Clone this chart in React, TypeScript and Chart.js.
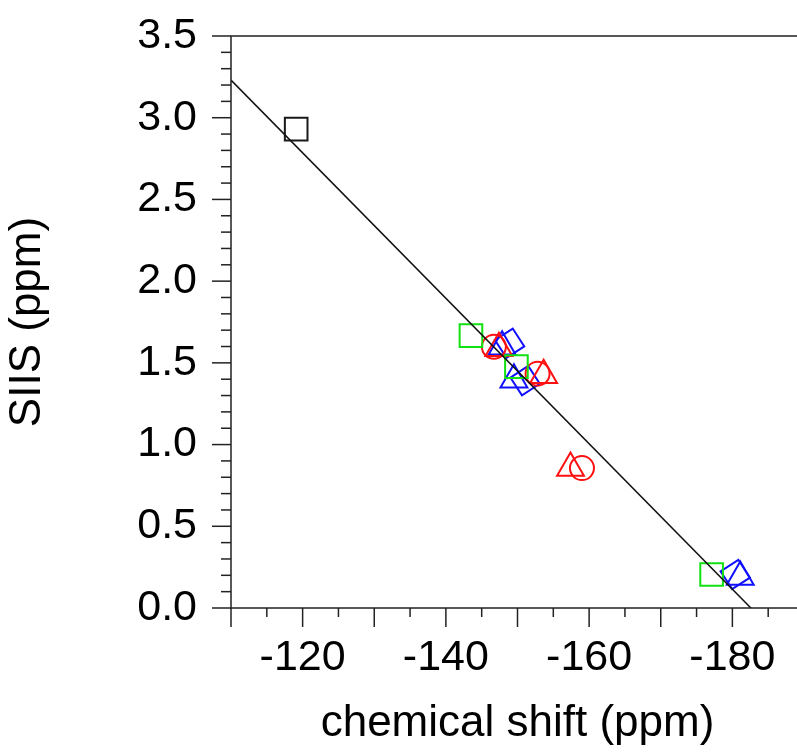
import React, { useEffect, useRef } from "react";
import { Chart, registerables } from "chart.js";

Chart.register(...registerables);

// ---- data ----
const fitX = [-110, -190];
const fitY = [3.23, -0.33];

const blackSqX = [-119.1];
const blackSqY = [2.93];

const greenSqX = [-143.5, -149.85, -177.1];
const greenSqY = [1.667, 1.477, 0.205];

const redCircX = [-146.7, -152.8, -159.0];
const redCircY = [1.598, 1.434, 0.856];

const redTriX = [-147.4, -153.65, -157.4];
const redTriY = [1.589, 1.424, 0.857];

const blueTriX = [-147.85, -149.5, -181.1];
const blueTriY = [1.598, 1.396, 0.19];

const blueDiaX = [-148.9, -151.06, -180.4];
const blueDiaY = [1.62, 1.391, 0.205];

const xLabeledTicks = [-120, -140, -160, -180];
const xTitle = "chemical shift (ppm)";
const yTitle = "SIIS (ppm)";

const FONT = "'Liberation Sans', Arial, Helvetica, sans-serif";

const zip = (xs: number[], ys: number[]) => xs.map((x, i) => ({ x, y: ys[i] }));

const markerSet = (
  label: string,
  xs: number[],
  ys: number[],
  color: string,
  style: string,
  radius: number,
  rotation = 0
) => ({
  type: "scatter" as const,
  label,
  data: zip(xs, ys),
  showLine: false,
  pointStyle: style,
  pointRadius: radius,
  pointHoverRadius: radius,
  pointRotation: rotation,
  pointBorderWidth: 2,
  pointBorderColor: color,
  pointBackgroundColor: "rgba(0,0,0,0)",
  borderColor: color,
  backgroundColor: "rgba(0,0,0,0)",
  order: 1,
});

const frameAndTicks = {
  id: "frameAndTicks",
  afterDraw(chart: any) {
    const { ctx, chartArea, scales } = chart;
    const { left, right, top, bottom } = chartArea;
    const xs = scales.x;
    const ys = scales.y;
    ctx.save();
    ctx.strokeStyle = "#222";
    ctx.lineWidth = 1.5;
    ctx.beginPath();
    ctx.moveTo(left, top);
    ctx.lineTo(right, top);
    ctx.lineTo(right, bottom);
    ctx.lineTo(left, bottom);
    ctx.closePath();
    ctx.stroke();
    // x ticks: major every 10, minor every 5, pointing outward (down)
    for (let i = 0; i <= 16; i++) {
      const v = xs.max - 5 * i;
      const px = xs.getPixelForValue(v);
      const len = i % 2 === 0 ? 19 : 9;
      ctx.beginPath();
      ctx.moveTo(px, bottom);
      ctx.lineTo(px, bottom + len);
      ctx.stroke();
    }
    // y ticks: major every 0.5, minor every 0.1, pointing outward (left)
    for (let i = 0; i <= 35; i++) {
      const v = i / 10;
      const py = ys.getPixelForValue(v);
      const len = i % 5 === 0 ? 19 : 10;
      ctx.beginPath();
      ctx.moveTo(left, py);
      ctx.lineTo(left - len, py);
      ctx.stroke();
    }
    ctx.restore();
  },
};

export default function App() {
  const ref = useRef<HTMLCanvasElement | null>(null);

  useEffect(() => {
    if (!ref.current) return;
    const chart = new Chart(ref.current, {
      type: "scatter",
      data: {
        datasets: [
          {
            type: "line",
            label: "fit",
            data: zip(fitX, fitY),
            borderColor: "#111",
            borderWidth: 1.5,
            pointRadius: 0,
            fill: false,
            order: -1,
          } as any,
          markerSet("black", blackSqX, blackSqY, "#1a1a1a", "rect", 16),
          markerSet("green", greenSqX, greenSqY, "#11e011", "rect", 16),
          markerSet("redCircle", redCircX, redCircY, "#ff1010", "circle", 12),
          markerSet("redTri", redTriX, redTriY, "#ff1010", "triangle", 15.5),
          markerSet("blueTri", blueTriX, blueTriY, "#1010ff", "triangle", 15.5),
          markerSet("blueDia", blueDiaX, blueDiaY, "#1010ff", "rectRot", 15, 12),
        ] as any,
      },
      options: {
        animation: false,
        responsive: false,
        devicePixelRatio: 1,
        layout: { padding: { top: 36, right: 26, left: 0, bottom: 0 } },
        plugins: {
          legend: { display: false },
          tooltip: { enabled: false },
        },
        scales: {
          x: {
            type: "linear",
            min: -190,
            max: -110,
            reverse: true,
            grid: { display: false, drawTicks: false },
            border: { display: false },
            ticks: {
              stepSize: 10,
              padding: 24,
              color: "#000",
              font: { family: FONT, size: 43 },
              maxRotation: 0,
              autoSkip: false,
              callback: (v: any) => (xLabeledTicks.includes(Number(v)) ? String(v) : ""),
            },
            title: {
              display: true,
              text: xTitle,
              color: "#000",
              font: { family: FONT, size: 44 },
              padding: { top: 0, bottom: 3 },
            },
            afterFit: (s: any) => {
              s.height = 145;
              s.paddingLeft = 0;
              s.paddingRight = 0;
            },
          },
          y: {
            type: "linear",
            min: 0,
            max: 3.5,
            grid: { display: false, drawTicks: false },
            border: { display: false },
            ticks: {
              stepSize: 0.5,
              padding: 34,
              color: "#000",
              font: { family: FONT, size: 43 },
              callback: (v: any) => Number(v).toFixed(1),
            },
            title: {
              display: true,
              text: yTitle,
              color: "#000",
              font: { family: FONT, size: 44 },
              padding: { top: 1, bottom: 0 },
            },
            afterFit: (s: any) => {
              s.width = 231;
              s.paddingTop = 0;
              s.paddingBottom = 0;
            },
          },
        },
      } as any,
      plugins: [frameAndTicks],
    });
    return () => chart.destroy();
  }, []);

  return (
    <div
      style={{
        position: "fixed",
        left: 0,
        top: 0,
        width: 797,
        height: 753,
        overflow: "hidden",
        background: "#fff",
      }}
    >
      <canvas ref={ref} width={830} height={753} style={{ display: "block" }} />
    </div>
  );
}
